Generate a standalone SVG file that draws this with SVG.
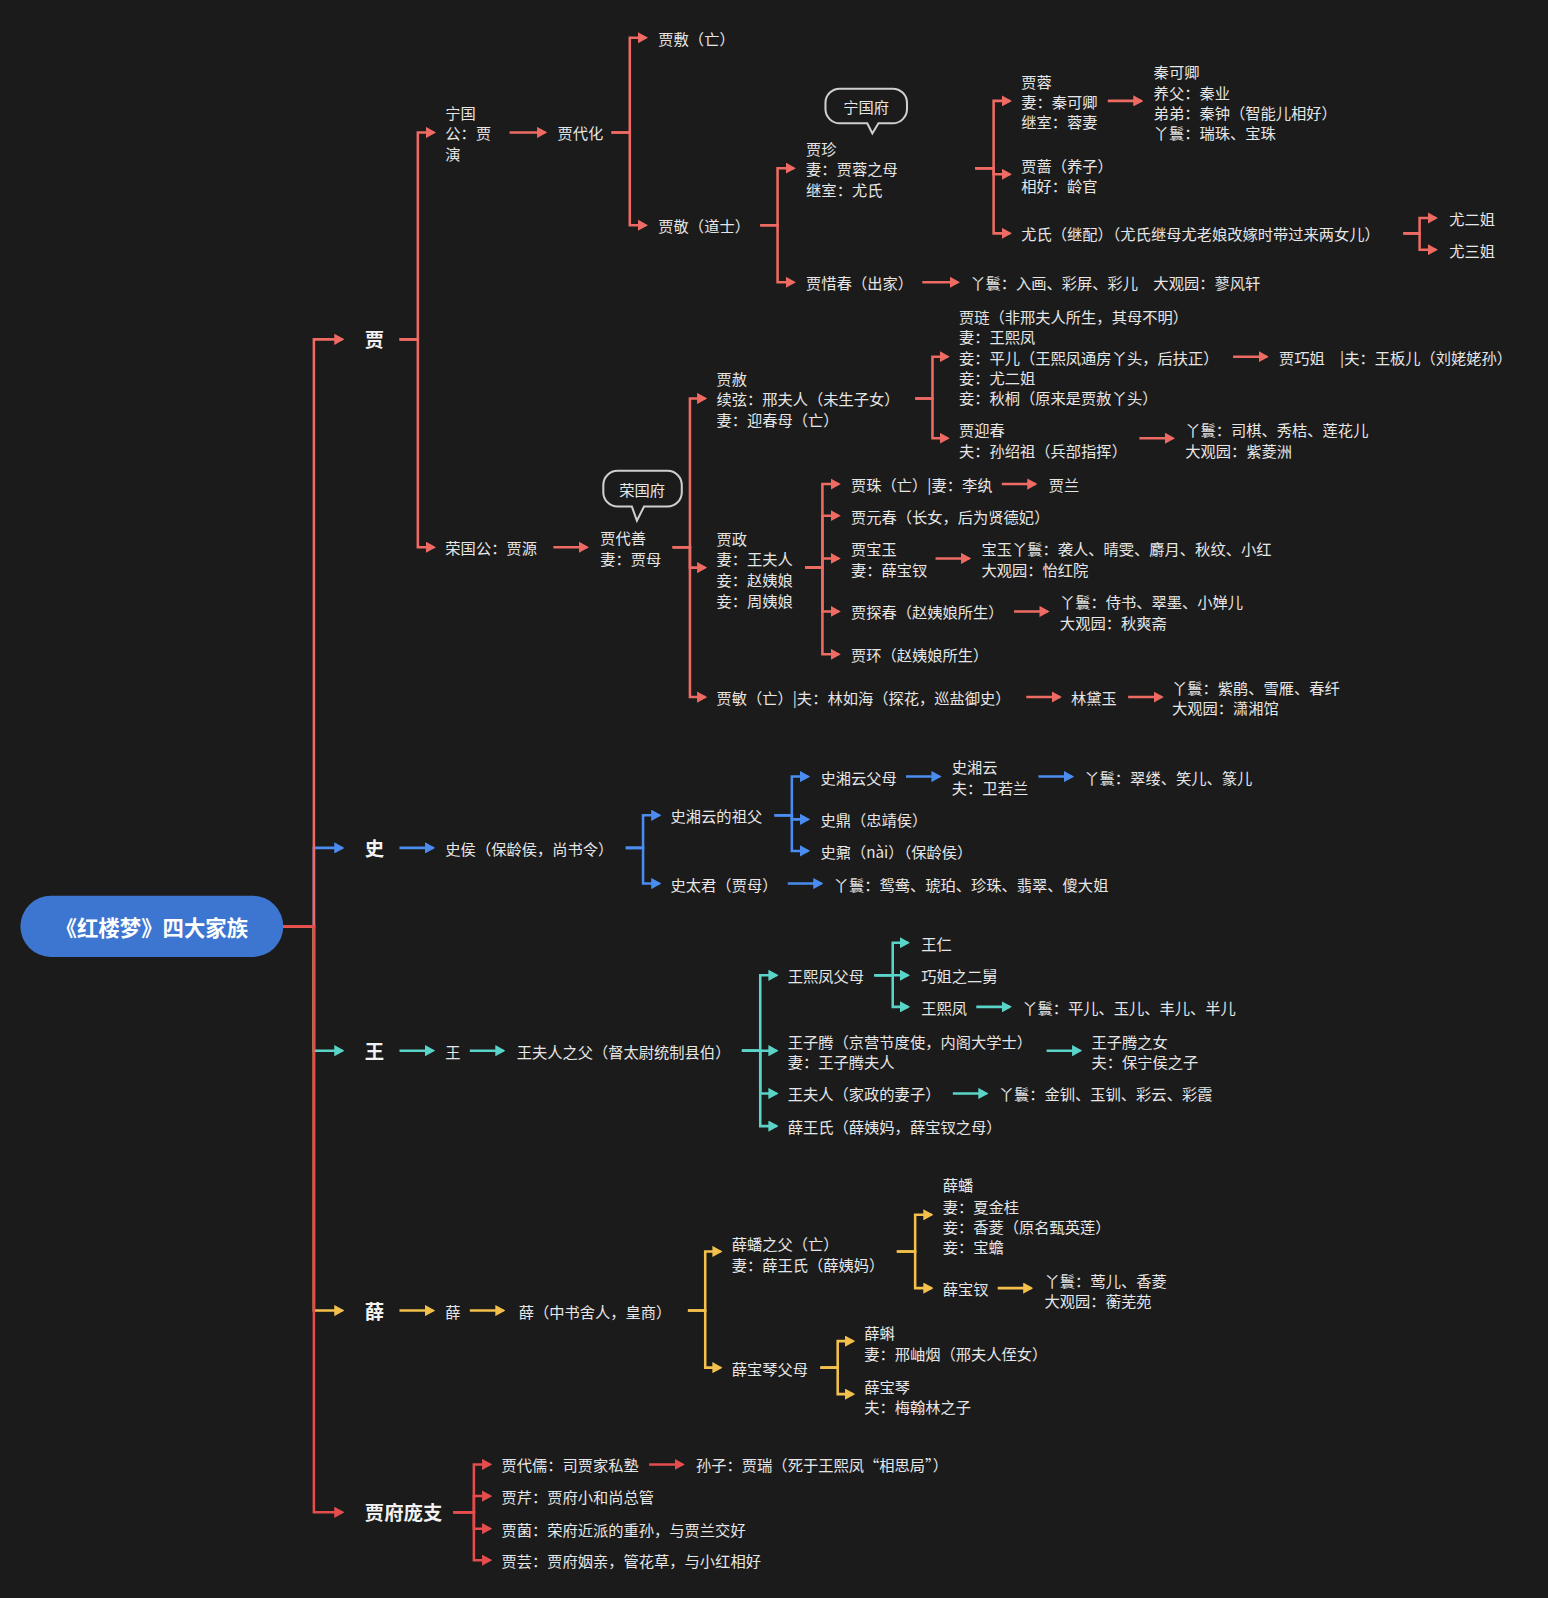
<svg xmlns="http://www.w3.org/2000/svg" width="1548" height="1598" viewBox="0 0 1548 1598">
<style>
text{font-family:"Noto Sans CJK SC","Noto Sans",sans-serif;font-size:15px;fill:#e6e6e6;dominant-baseline:central}
.l1{font-size:19px;font-weight:bold;fill:#f2f2f2}
.root{font-size:21px;font-weight:bold;fill:#fff;text-anchor:middle}
.r{fill:none;stroke:#ee6b63;stroke-width:2.5;marker-end:url(#mr)}
.b{fill:none;stroke:#4a8cf0;stroke-width:2.5;marker-end:url(#mb)}
.t{fill:none;stroke:#5ad4c8;stroke-width:2.5;marker-end:url(#mt)}
.y{fill:none;stroke:#f3c04c;stroke-width:2.5;marker-end:url(#my)}
.d{fill:none;stroke:#e54d4d;stroke-width:2.5;marker-end:url(#md)}
.bub{fill:#1b1b1b;stroke:#cfcfcf;stroke-width:2}
</style>
<defs>
<marker id="mr" markerUnits="userSpaceOnUse" markerWidth="10" markerHeight="11" refX="8" refY="5.5" orient="auto"><path d="M0,0 L10,5.5 L0,11z" fill="#ee6b63"/></marker>
<marker id="mb" markerUnits="userSpaceOnUse" markerWidth="10" markerHeight="11" refX="8" refY="5.5" orient="auto"><path d="M0,0 L10,5.5 L0,11z" fill="#4a8cf0"/></marker>
<marker id="mt" markerUnits="userSpaceOnUse" markerWidth="10" markerHeight="11" refX="8" refY="5.5" orient="auto"><path d="M0,0 L10,5.5 L0,11z" fill="#5ad4c8"/></marker>
<marker id="my" markerUnits="userSpaceOnUse" markerWidth="10" markerHeight="11" refX="8" refY="5.5" orient="auto"><path d="M0,0 L10,5.5 L0,11z" fill="#f3c04c"/></marker>
<marker id="md" markerUnits="userSpaceOnUse" markerWidth="10" markerHeight="11" refX="8" refY="5.5" orient="auto"><path d="M0,0 L10,5.5 L0,11z" fill="#e54d4d"/></marker>
</defs>
<rect width="1548" height="1598" fill="#1b1b1b"/>
<g transform="scale(1.0191)">
<g id="connectors">
<path class="b" d="M278,909 H308 V832 H336"/>
<path class="t" d="M278,909 H308 V1031 H336"/>
<path class="y" d="M278,909 H308 V1286 H336"/>
<path class="r" d="M278,909 H308 V333 H336"/>
<path class="d" d="M278,909 H308 V1484 H336"/>
<path class="r" d="M392,333 H410 V130 H426"/>
<path class="r" d="M392,333 H410 V537 H426"/>
<path class="r" d="M500,130 H535"/>
<path class="r" d="M600,130 H618 V37 H634"/>
<path class="r" d="M600,130 H618 V221 H634"/>
<path class="r" d="M746,221 H763 V165 H779"/>
<path class="r" d="M746,221 H763 V277 H779"/>
<path class="r" d="M905,277 H940"/>
<path class="r" d="M957,165 H975 V99 H991"/>
<path class="r" d="M957,165 H975 V171 H991"/>
<path class="r" d="M957,165 H975 V229 H991"/>
<path class="r" d="M1087,99 H1120"/>
<path class="r" d="M1377,229 H1393 V214 H1409"/>
<path class="r" d="M1377,229 H1393 V245 H1409"/>
<path class="r" d="M543,537 H576"/>
<path class="r" d="M660,537 H677 V391 H692"/>
<path class="r" d="M660,537 H677 V557 H692"/>
<path class="r" d="M660,537 H677 V684 H692"/>
<path class="r" d="M898,391 H915 V350 H930"/>
<path class="r" d="M898,391 H915 V430 H930"/>
<path class="r" d="M1210,350 H1243"/>
<path class="r" d="M1118,430 H1151"/>
<path class="r" d="M790,557 H807 V475 H823"/>
<path class="r" d="M790,557 H807 V506 H823"/>
<path class="r" d="M790,557 H807 V548 H823"/>
<path class="r" d="M790,557 H807 V600 H823"/>
<path class="r" d="M790,557 H807 V642 H823"/>
<path class="r" d="M983,475 H1016"/>
<path class="r" d="M918,548 H951"/>
<path class="r" d="M995,600 H1028"/>
<path class="r" d="M1007,684 H1040"/>
<path class="r" d="M1107,684 H1140"/>
<path class="b" d="M392,832 H425"/>
<path class="b" d="M614,832 H631 V800 H647"/>
<path class="b" d="M614,832 H631 V867 H647"/>
<path class="b" d="M760,800 H777 V762 H793"/>
<path class="b" d="M760,800 H777 V804 H793"/>
<path class="b" d="M760,800 H777 V835 H793"/>
<path class="b" d="M889,762 H922"/>
<path class="b" d="M1019,762 H1052"/>
<path class="b" d="M773,867 H806"/>
<path class="t" d="M392,1031 H425"/>
<path class="t" d="M461,1031 H494"/>
<path class="t" d="M728,1031 H746 V957 H762"/>
<path class="t" d="M728,1031 H746 V1031 H762"/>
<path class="t" d="M728,1031 H746 V1073 H762"/>
<path class="t" d="M728,1031 H746 V1105 H762"/>
<path class="t" d="M858,957 H876 V925 H891"/>
<path class="t" d="M858,957 H876 V957 H891"/>
<path class="t" d="M858,957 H876 V988 H891"/>
<path class="t" d="M958,988 H991"/>
<path class="t" d="M1027,1031 H1060"/>
<path class="t" d="M935,1073 H968"/>
<path class="y" d="M392,1286 H425"/>
<path class="y" d="M461,1286 H494"/>
<path class="y" d="M675,1286 H692 V1228 H707"/>
<path class="y" d="M675,1286 H692 V1342 H707"/>
<path class="y" d="M880,1228 H898 V1192 H914"/>
<path class="y" d="M880,1228 H898 V1264 H914"/>
<path class="y" d="M979,1264 H1012"/>
<path class="y" d="M805,1342 H822 V1316 H837"/>
<path class="y" d="M805,1342 H822 V1368 H837"/>
<path class="d" d="M445,1484 H465 V1437 H481"/>
<path class="d" d="M445,1484 H465 V1468 H481"/>
<path class="d" d="M445,1484 H465 V1500 H481"/>
<path class="d" d="M445,1484 H465 V1531 H481"/>
<path class="d" d="M637,1437 H670"/>
</g>
<g id="root"><rect x="20" y="879" width="258" height="60" rx="30" fill="#3c76d1"/><text class="root" x="149" y="909">《红楼梦》四大家族</text></g>
<g id="l1"><text class="l1" x="358" y="333">贾</text><text class="l1" x="358" y="832">史</text><text class="l1" x="358" y="1031">王</text><text class="l1" x="358" y="1286">薛</text><text class="l1" x="358" y="1484">贾府庞支</text></g>
<g id="ning">
<text x="437" y="110">宁国</text><text x="437" y="130">公：贾</text><text x="437" y="150">演</text>
<text x="547" y="130">贾代化</text>
<text x="646" y="37">贾敷（亡）</text>
<text x="646" y="221">贾敬（道士）</text>
<path class="bub" d="M824,87 H876 A14,14 0 0 1 890,101 V107 A14,14 0 0 1 876,121 H862 L856,131 L851,121 H824 A14,14 0 0 1 810,107 V101 A14,14 0 0 1 824,87z"/>
<text x="850" y="104" text-anchor="middle">宁国府</text>
<text x="791" y="145">贾珍</text><text x="791" y="165">妻：贾蓉之母</text><text x="791" y="185">继室：尤氏</text>
<text x="791" y="277">贾惜春（出家）</text>
<text x="952" y="277">丫鬟：入画、彩屏、彩儿　大观园：蓼风轩</text>
<text x="1002" y="79">贾蓉</text><text x="1002" y="99">妻：秦可卿</text><text x="1002" y="119">继室：蓉妻</text>
<text x="1132" y="70">秦可卿</text><text x="1132" y="90">养父：秦业</text><text x="1132" y="110">弟弟：秦钟（智能儿相好）</text><text x="1132" y="130">丫鬟：瑞珠、宝珠</text>
<text x="1002" y="162">贾蔷（养子）</text><text x="1002" y="182">相好：龄官</text>
<text x="1002" y="229">尤氏（继配）（尤氏继母尤老娘改嫁时带过来两女儿）</text>
<text x="1422" y="214">尤二姐</text><text x="1422" y="245">尤三姐</text>
</g>
<g id="rong">
<text x="437" y="537">荣国公：贾源</text>
<path class="bub" d="M606,462 H655 A14,14 0 0 1 669,476 V483 A14,14 0 0 1 655,497 H632 L625,511 L620,497 H606 A14,14 0 0 1 592,483 V476 A14,14 0 0 1 606,462z"/>
<text x="630" y="480" text-anchor="middle">荣国府</text>
<text x="589" y="527">贾代善</text><text x="589" y="548">妻：贾母</text>
<text x="703" y="371">贾赦</text><text x="703" y="391">续弦：邢夫人（未生子女）</text><text x="703" y="411">妻：迎春母（亡）</text>
<text x="941" y="310">贾琏（非邢夫人所生，其母不明）</text><text x="941" y="330">妻：王熙凤</text><text x="941" y="350">妾：平儿（王熙凤通房丫头，后扶正）</text><text x="941" y="370">妾：尤二姐</text><text x="941" y="390">妾：秋桐（原来是贾赦丫头）</text>
<text x="1255" y="350">贾巧姐　|夫：王板儿（刘姥姥孙）</text>
<text x="941" y="421">贾迎春</text><text x="941" y="442">夫：孙绍祖（兵部指挥）</text>
<text x="1163" y="421">丫鬟：司棋、秀桔、莲花儿</text><text x="1163" y="442">大观园：紫菱洲</text>
<text x="703" y="528">贾政</text><text x="703" y="548">妻：王夫人</text><text x="703" y="568">妾：赵姨娘</text><text x="703" y="589">妾：周姨娘</text>
<text x="835" y="475">贾珠（亡）|妻：李纨</text><text x="1029" y="475">贾兰</text>
<text x="835" y="506">贾元春（长女，后为贤德妃）</text>
<text x="835" y="538">贾宝玉</text><text x="835" y="558">妻：薛宝钗</text>
<text x="963" y="538">宝玉丫鬟：袭人、晴雯、麝月、秋纹、小红</text><text x="963" y="558">大观园：怡红院</text>
<text x="835" y="600">贾探春（赵姨娘所生）</text>
<text x="1040" y="590">丫鬟：侍书、翠墨、小婵儿</text><text x="1040" y="610">大观园：秋爽斋</text>
<text x="835" y="642">贾环（赵姨娘所生）</text>
<text x="703" y="684">贾敏（亡）|夫：林如海（探花，巡盐御史）</text>
<text x="1051" y="684">林黛玉</text>
<text x="1150" y="674">丫鬟：紫鹃、雪雁、春纤</text><text x="1150" y="694">大观园：潇湘馆</text>
</g>
<g id="shi">
<text x="437" y="832">史侯（保龄侯，尚书令）</text>
<text x="658" y="800">史湘云的祖父</text>
<text x="805" y="762">史湘云父母</text>
<text x="934" y="752">史湘云</text><text x="934" y="772">夫：卫若兰</text>
<text x="1064" y="762">丫鬟：翠缕、笑儿、篆儿</text>
<text x="805" y="804">史鼎（忠靖侯）</text>
<text x="805" y="835">史鼐（nài）（保龄侯）</text>
<text x="658" y="867">史太君（贾母）</text>
<text x="818" y="867">丫鬟：鸳鸯、琥珀、珍珠、翡翠、傻大姐</text>
</g>
<g id="wang">
<text x="437" y="1031">王</text>
<text x="507" y="1031">王夫人之父（督太尉统制县伯）</text>
<text x="773" y="957">王熙凤父母</text>
<text x="904" y="925">王仁</text><text x="904" y="957">巧姐之二舅</text><text x="904" y="988">王熙凤</text>
<text x="1003" y="988">丫鬟：平儿、玉儿、丰儿、半儿</text>
<text x="773" y="1021">王子腾（京营节度使，内阁大学士）</text><text x="773" y="1041">妻：王子腾夫人</text>
<text x="1071" y="1021">王子腾之女</text><text x="1071" y="1041">夫：保宁侯之子</text>
<text x="773" y="1073">王夫人（家政的妻子）</text>
<text x="980" y="1073">丫鬟：金钏、玉钏、彩云、彩霞</text>
<text x="773" y="1105">薛王氏（薛姨妈，薛宝钗之母）</text>
</g>
<g id="xue">
<text x="437" y="1286">薛</text>
<text x="509" y="1286">薛（中书舍人，皇商）</text>
<text x="718" y="1220">薛蟠之父（亡）</text><text x="718" y="1240">妻：薛王氏（薛姨妈）</text>
<text x="925" y="1162">薛蟠</text><text x="925" y="1183">妻：夏金桂</text><text x="925" y="1203">妾：香菱（原名甄英莲）</text><text x="925" y="1223">妾：宝蟾</text>
<text x="925" y="1264">薛宝钗</text>
<text x="1025" y="1256">丫鬟：莺儿、香菱</text><text x="1025" y="1276">大观园：蘅芜苑</text>
<text x="718" y="1342">薛宝琴父母</text>
<text x="848" y="1307">薛蝌</text><text x="848" y="1328">妻：邢岫烟（邢夫人侄女）</text>
<text x="848" y="1360">薛宝琴</text><text x="848" y="1380">夫：梅翰林之子</text>
</g>
<g id="pangzhi">
<text x="492" y="1437">贾代儒：司贾家私塾</text>
<text x="683" y="1437">孙子：贾瑞（死于王熙凤“相思局”）</text>
<text x="492" y="1468">贾芹：贾府小和尚总管</text>
<text x="492" y="1500">贾菌：荣府近派的重孙，与贾兰交好</text>
<text x="492" y="1531">贾芸：贾府姻亲，管花草，与小红相好</text>
</g>
</g>
</svg>
